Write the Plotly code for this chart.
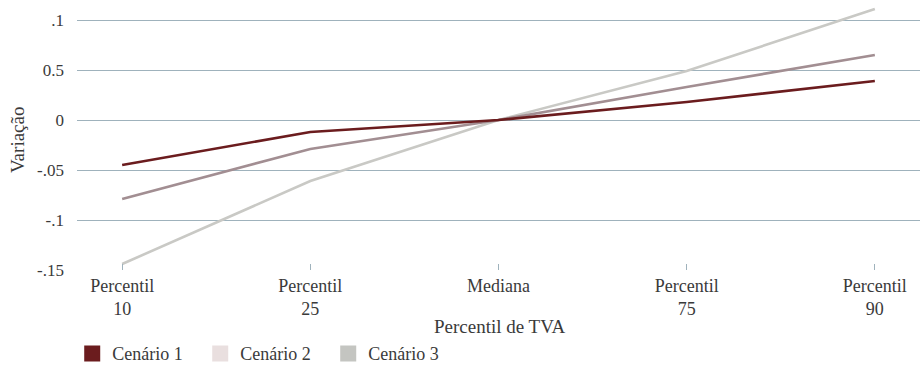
import plotly.graph_objects as go

categories = ["Percentil<br>10", "Percentil<br>25", "Mediana", "Percentil<br>75", "Percentil<br>90"]
cenario1 = [-0.045, -0.012, 0.0, 0.018, 0.039]
cenario2 = [-0.079, -0.029, 0.0, 0.033, 0.065]
cenario3 = [-0.144, -0.061, 0.0, 0.049, 0.111]
y_tickvals = [0.1, 0.05, 0.0, -0.05, -0.1, -0.15]
y_ticktext = [".1", "0.5", "0", "-.05", "-.1", "-.15"]
series_names = ["Cenário 1", "Cenário 2", "Cenário 3"]
x_title = "Percentil de TVA"
y_title = "Variação"

line_colors = ["#6b1c1e", "#a28e92", "#c9c9c5"]
legend_colors = ["#6b1c1e", "#e9dfdf", "#c4c5c1"]

FONT = "Times New Roman, Liberation Serif, Times, serif"
xs = list(range(len(categories)))

fig = go.Figure()
# draw back to front
for vals, col in [(cenario3, line_colors[2]), (cenario2, line_colors[1]), (cenario1, line_colors[0])]:
    fig.add_trace(go.Scatter(x=xs, y=vals, mode="lines", line=dict(color=col, width=2.6),
                             showlegend=False, hoverinfo="skip"))

for name, col in zip(series_names, legend_colors):
    fig.add_trace(go.Scatter(x=[None], y=[None], mode="markers", name=name,
                             marker=dict(symbol="square", size=17, color=col)))

fig.update_layout(
    width=920, height=367,
    margin=dict(l=77, r=0, t=0, b=97, autoexpand=False),
    paper_bgcolor="white", plot_bgcolor="white",
    font=dict(family=FONT, size=17, color="#3a3a3a"),
    showlegend=True,
    legend=dict(orientation="h", xref="container", yref="paper",
                x=0.0785, y=-0.31, xanchor="left", yanchor="middle",
                entrywidth=83, entrywidthmode="pixels",
                font=dict(family=FONT, size=18, color="#3a3a3a"),
                itemsizing="trace", traceorder="normal"),
    xaxis=dict(
        range=[-0.24, 4.24],
        tickvals=xs, ticktext=categories,
        showgrid=False, zeroline=False, automargin=False,
        ticks="inside", ticklen=6, tickcolor="#9fb2bc", tickwidth=1,
        showline=False,
        ticklabelstandoff=3,
        tickfont=dict(family=FONT, size=18),
    ),
    yaxis=dict(
        range=[-0.15, 0.12],
        tickvals=y_tickvals, ticktext=y_ticktext,
        showgrid=True, gridcolor="#9fb2bc", gridwidth=1,
        zeroline=False, showline=False, ticks="", automargin=False,
        ticklabelstandoff=12,
        tickfont=dict(family=FONT, size=17),
    ),
    annotations=[
        dict(text=x_title, xref="paper", yref="paper",
             x=(499 - 77) / 843, y=-0.211, xanchor="center", yanchor="middle",
             showarrow=False, font=dict(family=FONT, size=19, color="#3a3a3a")),
        dict(text=y_title, xref="paper", yref="paper", textangle=-90,
             x=(17 - 77) / 843, y=(270 - 140) / 270, xanchor="center", yanchor="middle",
             showarrow=False, font=dict(family=FONT, size=19, color="#3a3a3a")),
    ],
)

fig.write_html("out.html", config={"displayModeBar": False},
               post_script="document.body.style.margin='0';")
